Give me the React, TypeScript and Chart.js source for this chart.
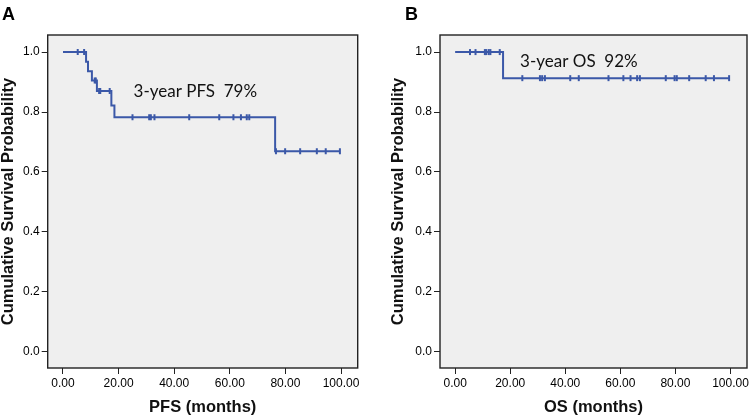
import React, { useEffect, useRef } from 'react';
import { Chart, registerables } from 'chart.js';

Chart.register(...registerables);

// ---- tick labels ----
const xTickValues = [0, 20, 40, 60, 80, 100];
const yTickValues = [0, 0.2, 0.4, 0.6, 0.8, 1.0];

// ---- Panel A: PFS Kaplan-Meier ----
const pfsStepTimes = [0, 8.3, 9.0, 10.4, 12.2, 17.4, 18.5, 76.3, 99.6];
const pfsStepSurvival = [1.0, 0.968, 0.936, 0.905, 0.87, 0.822, 0.783, 0.669, 0.669];
const pfsCensorTimes = [5.3, 7.6, 11.4, 11.8, 13.0, 13.4, 16.8, 25.0, 31.0, 31.6, 32.9, 45.4, 56.2, 61.3, 64.0, 66.1, 67.0, 76.6, 79.9, 85.3, 91.3, 94.5, 99.6];
const pfsCensorSurvival = [1.0, 1.0, 0.905, 0.905, 0.87, 0.87, 0.87, 0.783, 0.783, 0.783, 0.783, 0.783, 0.783, 0.783, 0.783, 0.783, 0.783, 0.669, 0.669, 0.669, 0.669, 0.669, 0.669];

// ---- Panel B: OS Kaplan-Meier ----
const osStepTimes = [0, 17.4, 99.5];
const osStepSurvival = [1.0, 0.913, 0.913];
const osCensorTimes = [5.4, 7.4, 10.8, 11.3, 12.2, 12.8, 16.2, 24.4, 30.8, 31.6, 32.6, 41.8, 44.9, 55.7, 61.1, 63.7, 66.1, 67.1, 76.5, 79.7, 80.5, 85.0, 91.0, 94.0, 99.5];
const osCensorSurvival = [1.0, 1.0, 1.0, 1.0, 1.0, 1.0, 1.0, 0.913, 0.913, 0.913, 0.913, 0.913, 0.913, 0.913, 0.913, 0.913, 0.913, 0.913, 0.913, 0.913, 0.913, 0.913, 0.913, 0.913, 0.913];

const LINE_COLOR = '#3b58a8';
const AXIS_FONT = "'Liberation Sans', Arial, sans-serif";

type Panel = {
  label: string;
  xTitle: string;
  note: string;
  noteX: number;
  noteY: number;
  times: number[];
  surv: number[];
  cTimes: number[];
  cSurv: number[];
  canvasLeft: number;
  canvasWidth: number;
  padLeft: number;
  yAxisWidth: number;
  padRight: number;
  labelX: number;
};

const panels: Panel[] = [
  {
    label: 'A', xTitle: 'PFS (months)', note: '3-year PFS  79%', noteX: 25.4, noteY: 0.867,
    times: pfsStepTimes, surv: pfsStepSurvival, cTimes: pfsCensorTimes, cSurv: pfsCensorSurvival,
    canvasLeft: 0, canvasWidth: 376, padLeft: 0, yAxisWidth: 47.7, padRight: 18.3, labelX: 2,
  },
  {
    label: 'B', xTitle: 'OS (months)', note: '3-year OS  92%', noteX: 23.6, noteY: 0.969,
    times: osStepTimes, surv: osStepSurvival, cTimes: osCensorTimes, cSurv: osCensorSurvival,
    canvasLeft: 376, canvasWidth: 377, padLeft: 14.5, yAxisWidth: 49.5, padRight: 4, labelX: 29,
  },
];

const decorPlugin = {
  id: 'decor',
  beforeDraw(chart: any) {
    const { ctx, chartArea } = chart;
    ctx.save();
    ctx.fillStyle = '#efefef';
    ctx.fillRect(chartArea.left, chartArea.top, chartArea.right - chartArea.left, chartArea.bottom - chartArea.top);
    ctx.restore();
  },
  afterDraw(chart: any, _args: any, opts: any) {
    const { ctx, chartArea, scales } = chart;
    ctx.save();
    ctx.strokeStyle = '#222';
    ctx.lineWidth = 1.4;
    ctx.strokeRect(chartArea.left, chartArea.top, chartArea.right - chartArea.left, chartArea.bottom - chartArea.top);
    // annotation
    ctx.fillStyle = '#111';
    ctx.font = "17px Lato, 'Open Sans', sans-serif";
    ctx.textBaseline = 'middle';
    ctx.textAlign = 'left';
    ctx.fillText(opts.note, scales.x.getPixelForValue(opts.noteX), scales.y.getPixelForValue(opts.noteY));
    // panel label
    ctx.font = `bold 18px ${AXIS_FONT}`;
    ctx.textBaseline = 'alphabetic';
    ctx.fillStyle = '#000';
    ctx.fillText(opts.label, opts.labelX, 19.5);
    ctx.restore();
  },
};

function KMChart({ p }: { p: Panel }) {
  const ref = useRef<HTMLCanvasElement>(null);
  useEffect(() => {
    if (!ref.current) return;
    const stepData = p.times.map((t, i) => ({ x: t, y: p.surv[i] }));
    const censorData = p.cTimes.map((t, i) => ({ x: t, y: p.cSurv[i] }));
    const chart = new Chart(ref.current, {
      type: 'line',
      data: {
        datasets: [
          {
            data: stepData,
            stepped: true,
            borderColor: LINE_COLOR,
            borderWidth: 2,
            pointRadius: 0,
            fill: false,
          } as any,
          {
            data: censorData,
            showLine: false,
            pointStyle: 'line',
            rotation: 90,
            pointRadius: 3,
            borderColor: LINE_COLOR,
            backgroundColor: LINE_COLOR,
            pointBorderWidth: 2,
          } as any,
        ],
      },
      options: {
        responsive: false,
        animation: false,
        events: [],
        layout: { padding: { left: p.padLeft, right: p.padRight, top: 35, bottom: 0 } },
        plugins: {
          legend: { display: false },
          tooltip: { enabled: false },
          decor: { note: p.note, noteX: p.noteX, noteY: p.noteY, label: p.label, labelX: p.labelX },
        } as any,
        scales: {
          x: {
            type: 'linear',
            min: -5.5,
            max: 106,
            afterBuildTicks: (s: any) => { s.ticks = xTickValues.map((v) => ({ value: v })); },
            afterFit: (s: any) => { s.height = 50; },
            border: { display: false },
            grid: { drawOnChartArea: false, drawTicks: true, tickLength: 6, color: '#222', lineWidth: 1 },
            ticks: {
              padding: 2,
              color: '#000',
              font: { family: AXIS_FONT, size: 12 },
              callback: (v: any) => Number(v).toFixed(2),
              maxRotation: 0,
              autoSkip: false,
            },
            title: {
              display: true,
              text: p.xTitle,
              color: '#111',
              font: { family: AXIS_FONT, size: 16.5, weight: 'bold', lineHeight: 1.2 },
              padding: { top: 0, bottom: 1 },
            },
          },
          y: {
            type: 'linear',
            min: -0.054,
            max: 1.057,
            afterBuildTicks: (s: any) => { s.ticks = yTickValues.map((v) => ({ value: v })); },
            afterFit: (s: any) => { s.width = p.yAxisWidth; },
            border: { display: false },
            grid: { drawOnChartArea: false, drawTicks: true, tickLength: 6, color: '#222', lineWidth: 1 },
            ticks: {
              padding: 2,
              color: '#000',
              font: { family: AXIS_FONT, size: 12 },
              callback: (v: any) => Number(v).toFixed(1),
              autoSkip: false,
            },
            title: {
              display: true,
              text: 'Cumulative Survival Probability',
              color: '#111',
              font: { family: AXIS_FONT, size: 16.5, weight: 'bold', lineHeight: 1 },
              padding: { top: 0, bottom: 0 },
            },
          },
        },
      } as any,
      plugins: [decorPlugin as any],
    });
    return () => chart.destroy();
  }, [p]);
  return (
    <canvas
      ref={ref}
      width={p.canvasWidth}
      height={418}
      style={{ position: 'absolute', left: p.canvasLeft, top: 0, width: p.canvasWidth, height: 418 }}
    />
  );
}

export default function App() {
  return (
    <div style={{ position: 'fixed', left: 0, top: 0, width: 753, height: 418, background: '#fff' }}>
      {panels.map((p) => (
        <KMChart key={p.label} p={p} />
      ))}
    </div>
  );
}
